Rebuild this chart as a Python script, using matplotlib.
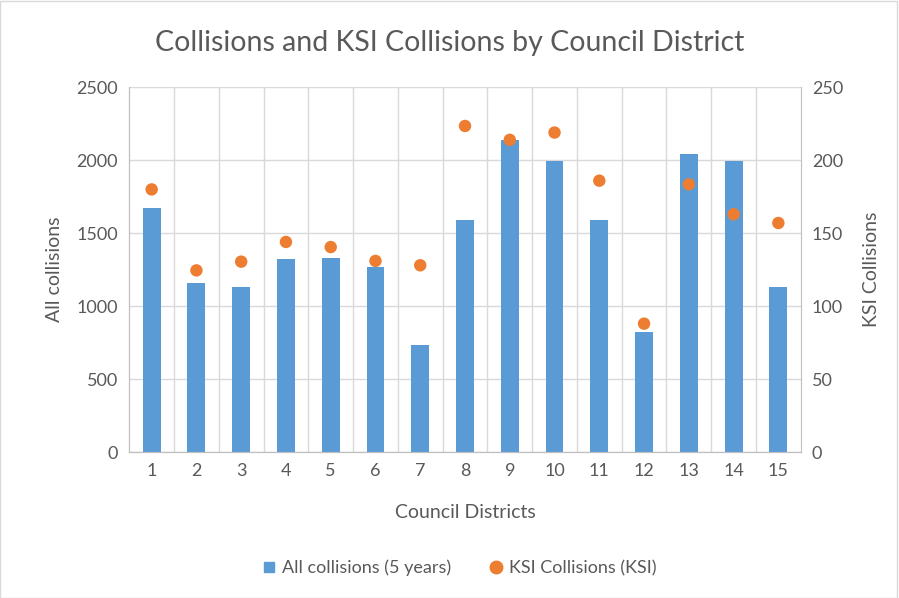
import numpy as np
import matplotlib.pyplot as plt
from matplotlib.lines import Line2D
from matplotlib.patches import Rectangle

# Dados
distritos = [str(i) for i in range(1, 16)]
todas_colisoes = [1675, 1158, 1131, 1321, 1327, 1266, 731, 1588, 2136, 1997, 1588, 822, 2042, 1997, 1131]
colisoes_ksi = [180, 124.5, 130.5, 144, 140.5, 131, 128, 223.5, 214, 219, 186, 88, 183.5, 163, 157]

azul = '#5b9bd5'
laranja = '#ed7d31'
cinza_texto = '#595959'
cinza_grade = '#d9d9d9'

plt.rcParams['font.family'] = ['Lato', 'DejaVu Sans']

fig = plt.figure(figsize=(8.99, 5.98), dpi=100)
ax = fig.add_axes([0.1438, 0.2441, 0.7469, 0.6099])
ax2 = ax.twinx()

x = np.arange(1, 16)
ax.bar(x, todas_colisoes, width=0.4, color=azul, zorder=3)
ax2.scatter(x, colisoes_ksi, s=80, color=laranja, zorder=4, edgecolors='none')

ax.set_xlim(0.5, 15.5)
ax.set_ylim(0, 2500)
ax2.set_ylim(0, 250)
ax.set_yticks(range(0, 2501, 500))
ax2.set_yticks(range(0, 251, 50))
ax.set_xticks(x)
ax.set_xticklabels(distritos)

# grade horizontal e vertical (entre categorias)
ax.set_axisbelow(True)
ax.grid(axis='y', color=cinza_grade, linewidth=1, zorder=0)
for b in np.arange(1.5, 15, 1):
    ax.axvline(b, color=cinza_grade, linewidth=1, zorder=0)

for a in (ax, ax2):
    for s in a.spines.values():
        s.set_color('#bfbfbf')
    a.spines['top'].set_visible(False)
    a.tick_params(length=0, labelsize=13, colors=cinza_texto, pad=8)
ax.spines['right'].set_visible(False)

ax.set_xlabel('Council Districts', fontsize=14, color=cinza_texto, labelpad=18)
ax.set_ylabel('All collisions', fontsize=14, color=cinza_texto, labelpad=10)
ax2.set_ylabel('KSI Collisions', fontsize=14, color=cinza_texto, labelpad=14)

fig.text(0.5, 0.928, 'Collisions and KSI Collisions by Council District',
         ha='center', va='center', fontsize=20.5, color=cinza_texto)

handles = [
    Line2D([], [], marker='s', linestyle='none', color=azul, markersize=7),
    Line2D([], [], marker='o', linestyle='none', color=laranja, markersize=9),
]
fig.legend(handles, ['All collisions (5 years)', 'KSI Collisions (KSI)'],
           loc='center', bbox_to_anchor=(0.51, 0.05), ncol=2, frameon=False,
           fontsize=13, labelcolor=cinza_texto, handlelength=1.0,
           handletextpad=0.2, columnspacing=2.0)

# borda cinza da imagem
fig.patches.append(Rectangle((0, 0), 0.998, 0.998, transform=fig.transFigure,
                             fill=False, edgecolor='#d9d9d9', linewidth=1))

plt.savefig('out.png', dpi=100)
plt.close()
